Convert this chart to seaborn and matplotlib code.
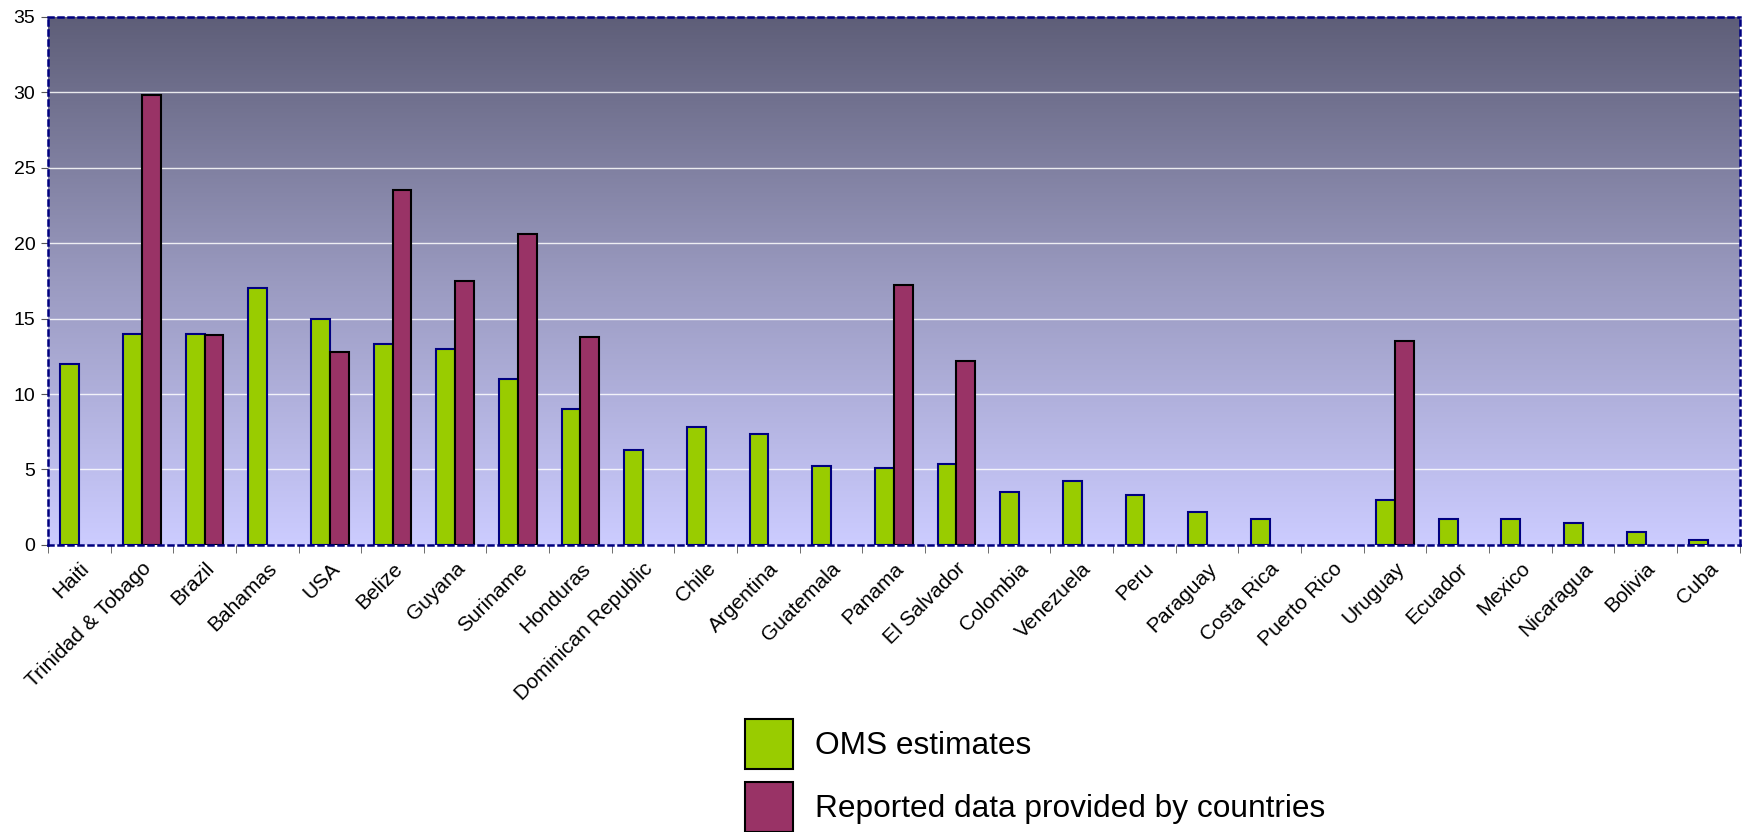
import numpy as np
import pandas as pd
import seaborn as sns
import matplotlib.pyplot as plt
from matplotlib.colors import LinearSegmentedColormap
from matplotlib.patches import Patch

countries = ["Haiti", "Trinidad & Tobago", "Brazil", "Bahamas", "USA", "Belize", "Guyana",
             "Suriname", "Honduras", "Dominican Republic", "Chile", "Argentina", "Guatemala",
             "Panama", "El Salvador", "Colombia", "Venezuela", "Peru", "Paraguay", "Costa Rica",
             "Puerto Rico", "Uruguay", "Ecuador", "Mexico", "Nicaragua", "Bolivia", "Cuba"]
oms = [12.0, 14.0, 14.0, 17.0, 15.0, 13.3, 13.0, 11.0, 9.0, 6.3, 7.8, 7.35, 5.2,
       5.1, 5.35, 3.5, 4.25, 3.3, 2.2, 1.7, np.nan, 3.0, 1.7, 1.7, 1.45, 0.85, 0.35]
reported = [np.nan, 29.8, 13.9, np.nan, 12.8, 23.5, 17.5, 20.6, 13.8, np.nan, np.nan, np.nan, np.nan,
            17.25, 12.2, np.nan, np.nan, np.nan, np.nan, np.nan, np.nan, 13.5, np.nan, np.nan,
            np.nan, np.nan, np.nan]
series = ["OMS estimates", "Reported data provided by countries"]
colors = ["#99CC00", "#993366"]
edges = ["#000080", "#000000"]

df = pd.DataFrame({"country": countries * 2,
                   "series": [series[0]] * len(countries) + [series[1]] * len(countries),
                   "value": oms + reported})

plt.rcParams['font.family'] = ['Liberation Sans', 'DejaVu Sans']

fig = plt.figure(figsize=(17.43, 8.32), dpi=100)
ax = fig.add_axes([0.0275, 0.345, 0.9705, 0.635])

# gradient background
cmap = LinearSegmentedColormap.from_list("bg", ["#CCCCFF", "#9A9AC0", "#5E5E78"])
grad = np.linspace(0, 1, 256).reshape(-1, 1)
ax.imshow(grad, cmap=cmap, origin="lower", aspect="auto",
          extent=[0, 1, 0, 1], transform=ax.transAxes, zorder=0)

sns.barplot(data=df, x="country", y="value", hue="series", order=countries,
            hue_order=series, palette=colors, width=0.6, dodge=True, saturation=1,
            errorbar=None, ax=ax, legend=False, zorder=3)
for cont, ec in zip(ax.containers, edges):
    for bar in cont:
        bar.set_edgecolor(ec)
        bar.set_linewidth(1.5)

ax.set_ylim(0, 35)
ax.set_xlim(-0.5, len(countries) - 0.5)
ax.set_yticks(range(0, 36, 5))
for y in range(5, 35, 5):
    ax.axhline(y, color="white", lw=1, alpha=0.85, zorder=1)

ax.set_xlabel("")
ax.set_ylabel("")
ax.set_xticks(range(len(countries)))
ax.set_xticklabels(countries, rotation=45, ha="right", rotation_mode="anchor", fontsize=15)
ax.set_xticks(np.arange(-0.5, len(countries), 1), minor=True)
ax.tick_params(axis="x", which="major", length=0, pad=10)
ax.tick_params(axis="x", which="minor", length=6, color="#555555", direction="out")
ax.tick_params(axis="y", labelsize=14, length=5, color="#555555", direction="out", pad=4)

for s in ax.spines.values():
    s.set_color("#000080")
    s.set_linestyle((0, (2, 2)))
    s.set_linewidth(1.8)
    s.set_zorder(5)

handles = [Patch(facecolor=c, edgecolor="black", linewidth=1.5) for c in colors]
fig.legend(handles, series, loc="upper left", bbox_to_anchor=(0.4185, 0.1545),
           frameon=False, fontsize=22.8, handlelength=1.5, handleheight=2.03,
           handletextpad=0.7, labelspacing=0.42, borderpad=0)

fig.savefig("out.png", dpi=100)
